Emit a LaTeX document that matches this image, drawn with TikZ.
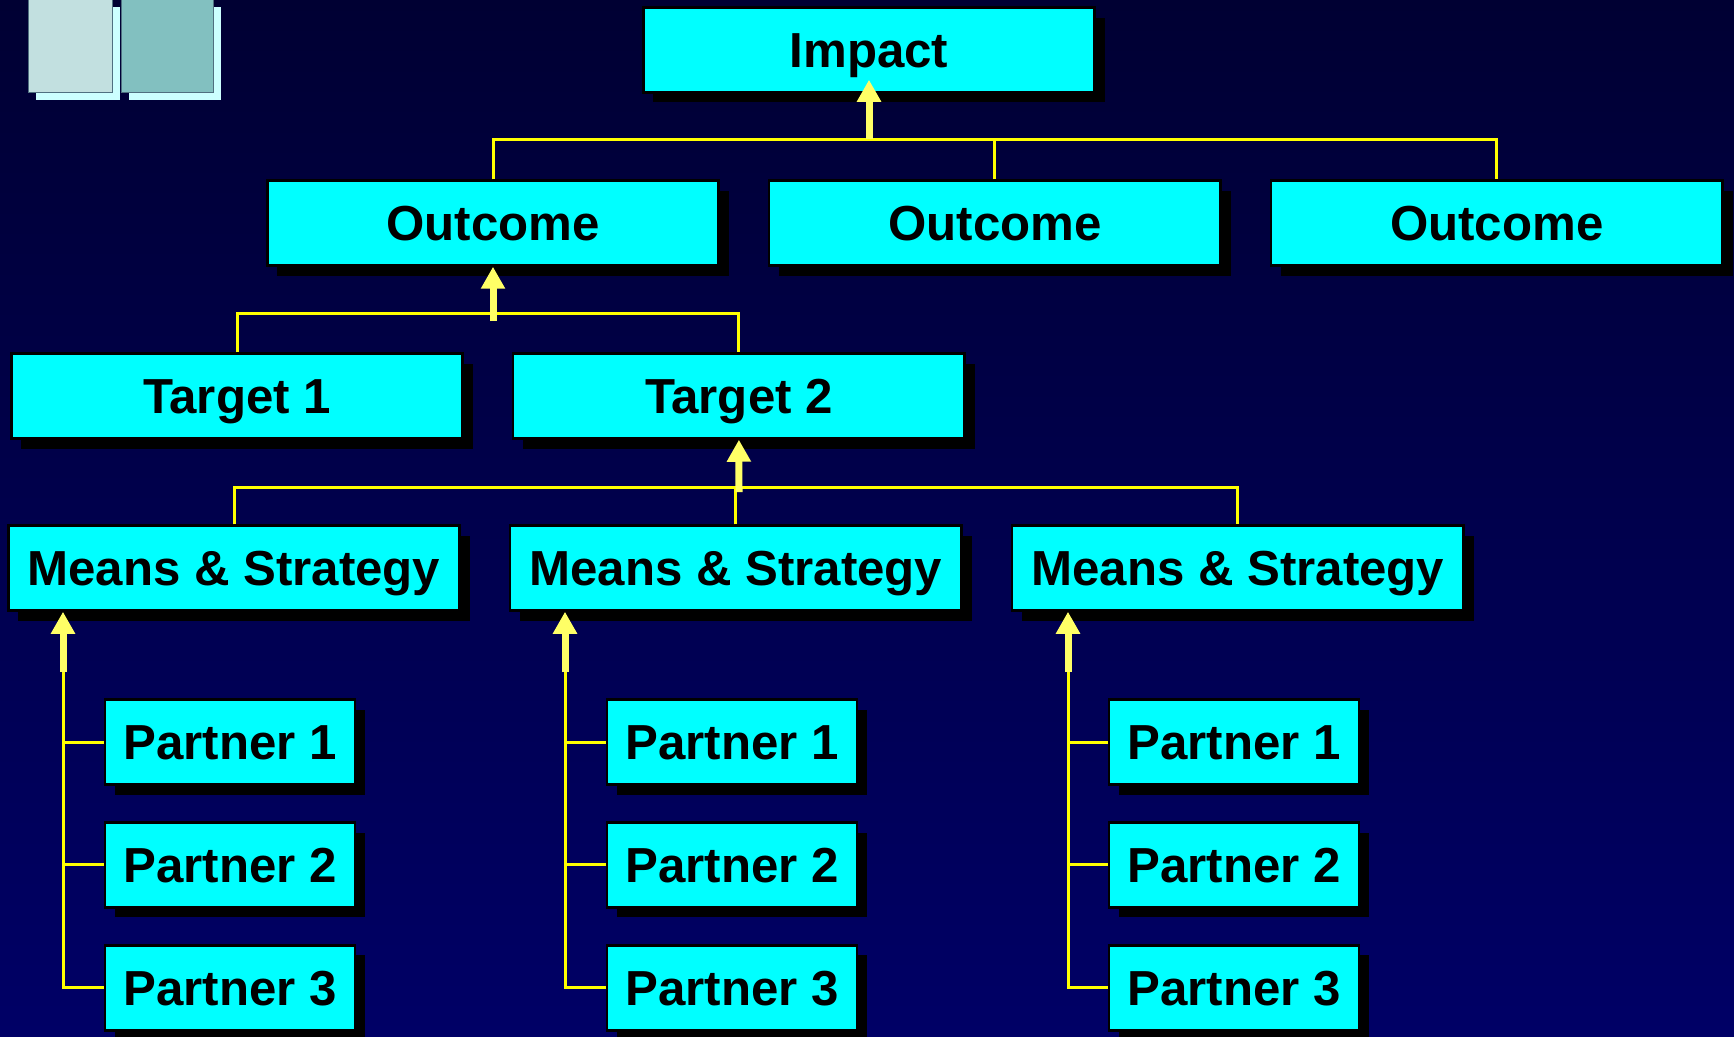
\documentclass[tikz,border=0pt]{standalone}
\usepackage{fontspec}
\setsansfont{Liberation Sans}
\usetikzlibrary{arrows.meta, positioning, calc, shadows}
\definecolor{planBgTop}{HTML}{000033}
\definecolor{planBgBottom}{HTML}{000066}
\definecolor{planBox}{HTML}{00FFFF}
\definecolor{planLine}{HTML}{FFFF00}
\definecolor{planArrow}{HTML}{FFFF66}
\definecolor{planTileA}{HTML}{C2E0E0}
\definecolor{planTileB}{HTML}{82C0C0}
\definecolor{planTileBack}{HTML}{CCFFFF}
\definecolor{planTileEdge}{HTML}{4F6F80}

\begin{document}
\begin{tikzpicture}[
    x=0.02cm, y=-0.02cm,
    font=\sffamily\bfseries\fontsize{28}{32}\selectfont,
    level/.style={
        draw=black,
        line width=0.05cm,
        fill=planBox,
        minimum width=9.03cm,
        minimum height=1.7cm,
        inner sep=0pt,
        text height=20pt,
        text depth=0pt,
        drop shadow={shadow xshift=0.2cm, shadow yshift=-0.2cm, fill=black, opacity=1}
    },
    partner/.style={level, minimum width=5cm},
    link/.style={draw=planLine, line width=0.06cm},
    up/.style={-{Triangle[width=0.46cm, length=0.44cm]}, draw=planArrow, line width=0.14cm},
]

\useasboundingbox (0,0) rectangle (1734,1036);
\shade[top color=planBgTop, bottom color=planBgBottom] (0,0) rectangle (1734,1036);

% corner tiles
\fill[planTileBack] (36,7) rectangle (120,100);
\fill[planTileBack] (129,7) rectangle (221,100);
\fill[planTileA] (28,0) rectangle (112,92);
\draw[planTileEdge, line width=0.02cm] (28,0) |- (112,92) -- (112,0);
\fill[planTileB] (121,0) rectangle (213,92);
\draw[planTileEdge, line width=0.02cm] (121,0) |- (213,92) -- (213,0);

% levels
\node[level] (impact) at (869,50) {Impact};

\node[level] (out1) at (493,223) {Outcome};
\node[level, right=0.96cm of out1] (out2) {Outcome};
\node[level, right=0.96cm of out2] (out3) {Outcome};

\node[level] (tgt1) at (237,396) {Target 1};
\node[level, right=0.96cm of tgt1] (tgt2) {Target 2};

\node[level] (mean1) at (234,568) {Means \& Strategy};
\node[level, right=0.96cm of mean1] (mean2) {Means \& Strategy};
\node[level, right=0.96cm of mean2] (mean3) {Means \& Strategy};

% partners
\node[partner] (p11) at (230,742) {Partner 1};
\node[partner, below=0.71cm of p11] (p12) {Partner 2};
\node[partner, below=0.71cm of p12] (p13) {Partner 3};

\node[partner] (p21) at (732,742) {Partner 1};
\node[partner, below=0.71cm of p21] (p22) {Partner 2};
\node[partner, below=0.71cm of p22] (p23) {Partner 3};

\node[partner] (p31) at (1234,742) {Partner 1};
\node[partner, below=0.71cm of p31] (p32) {Partner 2};
\node[partner, below=0.71cm of p32] (p33) {Partner 3};

% outcomes -> impact
\coordinate (impactbus) at (869,139);
\draw[link] (out1.north) |- (impactbus) -| (out3.north);
\draw[link] (out2.north) -- (out2.north |- impactbus);
\draw[up] (impactbus) -- ([yshift=0.28cm]impact.south);

% targets -> outcome
\coordinate (outbus) at (493,313);
\draw[link] (tgt1.north) |- (outbus) -| (tgt2.north);
\draw[up] ([yshift=-0.16cm]outbus) -- (out1.south);

% means -> target
\coordinate (tgtbus) at (739,487);
\draw[link] (mean1.north) |- (tgtbus) -| (mean3.north);
\draw[link] (mean2.north) -- (mean2.north |- tgtbus);
\draw[up] ([yshift=-0.1cm]tgtbus) -- (tgt2.south);

% partners -> means
\coordinate (col1) at (63,672);
\draw[link] (col1) |- (p13.west);
\draw[link] (p11.west -| col1) -- (p11.west);
\draw[link] (p12.west -| col1) -- (p12.west);
\draw[up] (col1) -- (mean1.south -| col1);

\coordinate (col2) at (565,672);
\draw[link] (col2) |- (p23.west);
\draw[link] (p21.west -| col2) -- (p21.west);
\draw[link] (p22.west -| col2) -- (p22.west);
\draw[up] (col2) -- (mean2.south -| col2);

\coordinate (col3) at (1068,672);
\draw[link] (col3) |- (p33.west);
\draw[link] (p31.west -| col3) -- (p31.west);
\draw[link] (p32.west -| col3) -- (p32.west);
\draw[up] (col3) -- (mean3.south -| col3);

\end{tikzpicture}
\end{document}
